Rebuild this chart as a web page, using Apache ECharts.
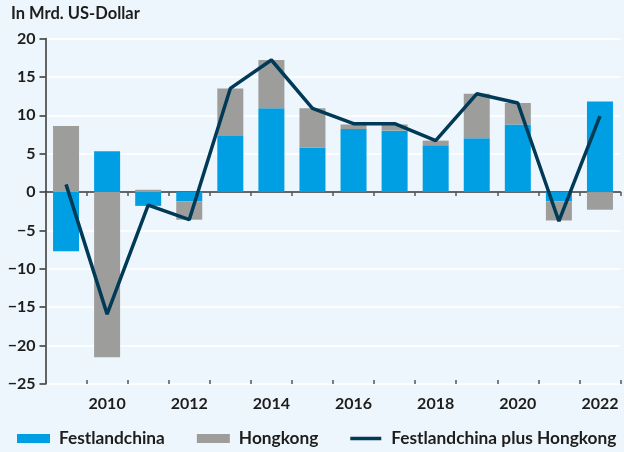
<!DOCTYPE html>
<html>
<head>
<meta charset="utf-8">
<script src="https://cdn.jsdelivr.net/npm/echarts@6/dist/echarts.min.js"></script>
<style>
  html, body { margin: 0; padding: 0; background: #eef6fd; }
  #chart { width: 624px; height: 452px; }
</style>
</head>
<body>
<div id="chart"></div>
<script>
  // values, in Mrd. US-Dollar
  const years = ['2009', '2010', '2011', '2012', '2013', '2014', '2015', '2016', '2017', '2018', '2019', '2020', '2021', '2022'];
  const festlandchina = [-7.7, 5.3, -1.8, -1.2, 7.3, 10.9, 5.8, 8.2, 8.0, 6.1, 7.0, 8.8, -1.2, 11.8];
  const hongkong = [8.6, -21.5, 0.3, -2.4, 6.2, 6.3, 5.1, 0.6, 0.8, 0.6, 5.8, 2.8, -2.5, -2.3];
  const summe = [1.0, -15.9, -1.7, -3.6, 13.5, 17.2, 10.9, 8.9, 8.9, 6.7, 12.8, 11.6, -3.8, 9.9];
  const yTicks = { min: -25, max: 20, step: 5 };

  const font = 'Lato';
  const textColor = '#1d1d1b';
  // thin bar for the line entry in the legend (invisible moveTo points keep the box 31x9)
  const lineIcon = 'path://M0,0L0,0.01M0,2.7L31,2.7L31,6.3L0,6.3ZM31,9L31,9.01';

  const chart = echarts.init(document.getElementById('chart'));

  const option = {
    backgroundColor: '#eef6fd',
    animation: false,
    textStyle: { fontFamily: font },
    title: {
      text: 'In Mrd. US-Dollar',
      left: 6,
      top: 0,
      textStyle: { fontFamily: font, fontSize: 16.5, fontWeight: 'bold', color: textColor }
    },
    legend: {
      top: 425,
      left: 12,
      itemWidth: 33,
      itemHeight: 9,
      itemGap: 32,
      textStyle: { fontFamily: font, fontSize: 17.3, fontWeight: 'bold', color: textColor, padding: [0, 0, 0, 4] },
      data: [
        { name: 'Festlandchina', icon: 'rect' },
        { name: 'Hongkong', icon: 'rect' },
        { name: 'Festlandchina plus Hongkong', icon: lineIcon, itemWidth: 31 }
      ]
    },
    grid: { left: 45.5, right: 3.5, top: 38.5, bottom: 68, containLabel: false },
    xAxis: [
      {
        type: 'category',
        data: years,
        position: 'bottom',
        axisLine: { onZero: true, lineStyle: { color: '#333333', width: 1.5 } },
        axisTick: { show: true, length: 4, lineStyle: { color: '#555555', width: 1.5 } },
        axisLabel: { show: false },
        splitLine: { show: false }
      },
      {
        type: 'category',
        data: years,
        position: 'bottom',
        axisLine: { onZero: true, show: false },
        axisTick: { show: true, inside: true, length: 4, lineStyle: { color: '#555555', width: 1.5 } },
        axisLabel: { show: false },
        splitLine: { show: false }
      },
      {
        type: 'category',
        data: years,
        position: 'bottom',
        axisLine: { onZero: false, show: false },
        axisTick: { show: false },
        axisLabel: {
          margin: 12,
          fontFamily: font,
          fontSize: 16,
          fontWeight: 'bold',
          color: textColor,
          interval: function (idx) { return idx % 2 === 1; }
        }
      }
    ],
    yAxis: {
      type: 'value',
      min: yTicks.min,
      max: yTicks.max,
      interval: yTicks.step,
      axisLine: { show: true, lineStyle: { color: '#333333', width: 1.5 } },
      axisTick: { show: true, length: 6, lineStyle: { color: '#333333', width: 1.5 } },
      axisLabel: {
        margin: 10,
        fontFamily: font,
        fontSize: 16,
        fontWeight: 'bold',
        color: textColor,
        formatter: v => (v < 0 ? '\u2212' + Math.abs(v) : String(v))
      },
      splitLine: { show: true, lineStyle: { color: '#ffffff', width: 1.5 } }
    },
    series: [
      {
        name: 'Festlandchina',
        type: 'bar',
        stack: 'fdi',
        barWidth: 26,
        itemStyle: { color: '#009fe3' },
        data: festlandchina
      },
      {
        name: 'Hongkong',
        type: 'bar',
        stack: 'fdi',
        barWidth: 26,
        itemStyle: { color: '#9d9d9c' },
        data: hongkong
      },
      {
        name: 'Festlandchina plus Hongkong',
        type: 'line',
        showSymbol: false,
        symbol: 'none',
        lineStyle: { color: '#003a56', width: 3.5 },
        itemStyle: { color: '#003a56' },
        z: 5,
        data: summe
      }
    ]
  };

  chart.setOption(option);
</script>
</body>
</html>
